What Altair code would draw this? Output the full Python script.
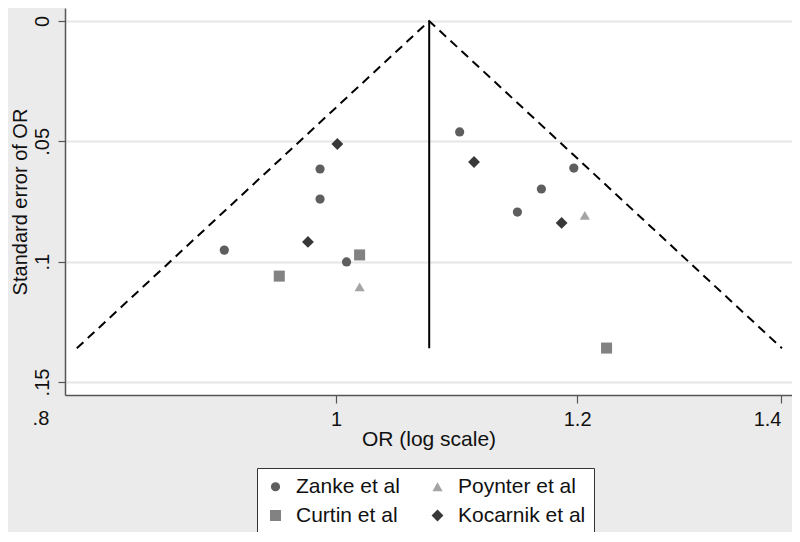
import altair as alt
import pandas as pd

# ---- data ----
studies = ["Zanke et al", "Poynter et al", "Curtin et al", "Kocarnik et al"]

zanke_or = [0.919, 0.988, 0.988, 1.008, 1.098, 1.197, 1.168, 1.147]
zanke_se = [0.0952, 0.0615, 0.0740, 0.1001, 0.0461, 0.0611, 0.0698, 0.0794]

curtin_or = [1.018, 0.958, 1.227]
curtin_se = [0.0972, 0.1060, 0.1359]

poynter_or = [1.018, 1.207]
poynter_se = [0.1105, 0.0808]

kocarnik_or = [1.001, 0.979, 1.110, 1.186]
kocarnik_se = [0.0511, 0.0918, 0.0586, 0.0839]

funnel_or = [0.822, 1.073, 1.401]
funnel_se = [0.136, 0.0, 0.136]

pooled_or = 1.073
max_se = 0.136

x_ticks = [1.0, 1.2, 1.4]
x_extra_tick = [0.8]
x_extra_label = [".8"]
y_ticks = [0.0, 0.05, 0.10, 0.15]

x_domain = [0.8147, 1.4117]
y_domain = [-0.0054, 0.1554]

FONT = "Liberation Sans"

rows = []
for name, ors, ses in [("Zanke et al", zanke_or, zanke_se),
                       ("Curtin et al", curtin_or, curtin_se),
                       ("Poynter et al", poynter_or, poynter_se),
                       ("Kocarnik et al", kocarnik_or, kocarnik_se)]:
    for o, s in zip(ors, ses):
        rows.append({"study": name, "or": o, "se": s})
pts = pd.DataFrame(rows)

funnel = pd.DataFrame({"or": funnel_or, "se": funnel_se,
                       "idx": list(range(len(funnel_or)))})
rule_df = pd.DataFrame({"or": [pooled_or], "se0": [0.0], "se1": [max_se]})
extra_df = pd.DataFrame({"or": x_extra_tick, "lab": x_extra_label,
                         "se": [y_domain[1]]})

W, H = 727, 387

xscale = alt.Scale(type="log", domain=x_domain, nice=False, zero=False)
yscale = alt.Scale(domain=y_domain, reverse=True, nice=False, zero=False)

xaxis = alt.Axis(values=x_ticks, title="OR (log scale)", grid=False,
                 labelExpr="datum.value == 1 ? '1' : format(datum.value, '.1f')",
                 tickSize=8, labelPadding=6, labelFontSize=20, labelFont=FONT,
                 labelColor="#111111", labelFlush=14,
                 titleFontSize=21, titleFont=FONT,
                 titleFontWeight="normal", titleColor="#111111",
                 titleX=W / 2, titleY=50, titleAlign="center",
                 titleBaseline="alphabetic",
                 domainColor="#555555", domainWidth=1.5,
                 tickColor="#555555", tickWidth=1.2)

yaxis = alt.Axis(values=y_ticks, title="Standard error of OR", grid=True,
                 gridColor="#e6e6e6", gridWidth=2,
                 labelExpr="replace(toString(datum.value), '0.', '.')",
                 labelAngle=270, labelAlign="center", labelBaseline="alphabetic",
                 tickSize=7, labelPadding=10, labelFontSize=20, labelFont=FONT,
                 labelColor="#111111", titleFontSize=20, titleFont=FONT,
                 titleFontWeight="normal", titleColor="#111111",
                 titleAngle=270, titleX=-39, titleY=H / 2, titleAlign="center",
                 titleBaseline="alphabetic",
                 domainColor="#555555", domainWidth=1.5,
                 tickColor="#555555", tickWidth=1.2)

funnel_line = alt.Chart(funnel).mark_line(
    color="black", strokeDash=[9, 6], strokeWidth=2
).encode(
    x=alt.X("or:Q", scale=xscale, axis=xaxis),
    y=alt.Y("se:Q", scale=yscale, axis=yaxis),
    order="idx:Q",
)

vrule = alt.Chart(rule_df).mark_rule(color="black", strokeWidth=2).encode(
    x=alt.X("or:Q", scale=xscale),
    y=alt.Y("se0:Q", scale=yscale),
    y2="se1:Q",
)

leg = alt.Legend(title=None)

points = alt.Chart(pts).mark_point(filled=True, opacity=1, strokeWidth=0).encode(
    x=alt.X("or:Q", scale=xscale),
    y=alt.Y("se:Q", scale=yscale),
    shape=alt.Shape("study:N", legend=leg, scale=alt.Scale(
        domain=studies, range=["circle", "triangle-up", "square", "diamond"])),
    color=alt.Color("study:N", legend=leg, scale=alt.Scale(
        domain=studies, range=["#5e5e5e", "#a4a4a4", "#828282", "#383838"])),
    size=alt.Size("study:N", legend=leg, scale=alt.Scale(
        domain=studies, range=[85, 140, 115, 190])),
)

extra_lab = alt.Chart(extra_df).mark_text(
    fontSize=20, font=FONT, color="#111111", baseline="top", align="center", dy=14
).encode(
    x=alt.X("or:Q", scale=xscale),
    y=alt.Y("se:Q", scale=yscale),
    text="lab:N",
)

chart = alt.layer(funnel_line, vrule, points, extra_lab).properties(
    width=W, height=H,
    background="#ebebeb",
    autosize=alt.AutoSizeParams(type="none"),
    padding={"left": 57, "top": 0, "right": 0, "bottom": 137},
).configure_view(
    fill="white", strokeWidth=0
).configure_legend(
    orient="none", legendX=192, legendY=460, columns=2, direction="horizontal",
    strokeColor="#333333", fillColor="white", padding=8,
    labelFontSize=21, labelFont=FONT, labelColor="#111111", labelOffset=10,
    rowPadding=7, columnPadding=27, symbolStrokeWidth=0,
)

chart.save("out.html", embed_options={"renderer": "svg", "actions": False})
